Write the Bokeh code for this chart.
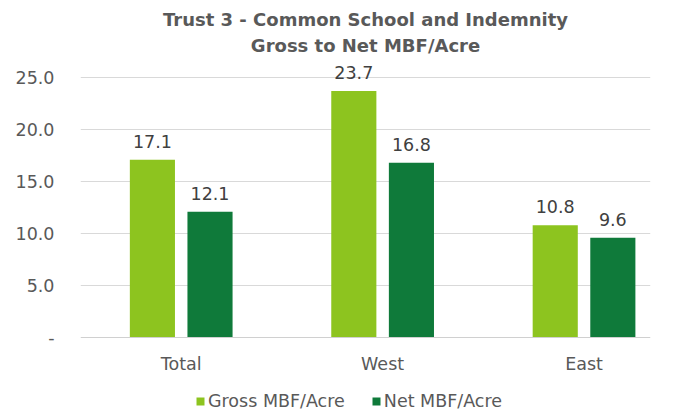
from bokeh.plotting import figure
from bokeh.models import (ColumnDataSource, FixedTicker, Title, Legend, LegendItem,
                          NumeralTickFormatter, LabelSet, Range1d, Span)
from bokeh.core.properties import value
from bokeh.embed import file_html
from bokeh.resources import INLINE

categories = ["Total", "West", "East"]
gross = [17.1, 23.7, 10.8]
net = [12.1, 16.8, 9.6]
y_ticks = [0, 5, 10, 15, 20, 25]

GROSS_COLOR = "#8DC41F"
NET_COLOR = "#0F7A3A"
TEXT_COLOR = "#595959"
FONT = "DejaVu Sans"

centers = [i + 0.5 for i in range(len(categories))]
offset = 0.143
bw = 0.224

src_g = ColumnDataSource(dict(x=[c - offset for c in centers], top=gross,
                              lab=[f"{v:.1f}" for v in gross]))
src_n = ColumnDataSource(dict(x=[c + offset for c in centers], top=net,
                              lab=[f"{v:.1f}" for v in net]))
src_c = ColumnDataSource(dict(x=centers, y=[0] * len(categories), lab=categories))

p = figure(width=680, height=415, frame_width=570, frame_height=359,
           output_backend="svg", toolbar_location=None, x_axis_location=None,
           x_range=Range1d(0, 2.83), y_range=Range1d(-7.5, 27.02),
           min_border_left=80, min_border_right=30, min_border_top=56,
           min_border_bottom=0)
p.outline_line_color = None
p.background_fill_color = "white"
p.border_fill_color = "white"

p.title.text = "Trust 3 - Common School and Indemnity"
p.title.align = "center"
p.title.text_font = FONT
p.title.text_font_size = "18px"
p.title.text_color = TEXT_COLOR
p.title.text_font_style = "bold"
p.title.standoff = 6
t2 = Title(text="Gross to Net MBF/Acre", align="center",
           text_font=FONT, text_font_size="18px", text_color=TEXT_COLOR,
           text_font_style="bold", standoff=1)
p.add_layout(t2, "above")

rg = p.vbar(x="x", top="top", width=bw, source=src_g, fill_color=GROSS_COLOR, line_color=None)
rn = p.vbar(x="x", top="top", width=bw, source=src_n, fill_color=NET_COLOR, line_color=None)

for s in (src_g, src_n):
    p.add_layout(LabelSet(x="x", y="top", text="lab", source=s, text_align="center",
                          text_baseline="bottom", y_offset=12, text_font_size=value("17.5px"),
                          text_color="#404040", text_font=value(FONT)))

# category labels under the baseline
p.add_layout(LabelSet(x="x", y="y", text="lab", source=src_c, text_align="center",
                      text_baseline="middle", y_offset=-26, text_font_size=value("17.5px"),
                      text_color=TEXT_COLOR, text_font=value(FONT)))
p.add_layout(Span(location=0, dimension="width", line_color="#D0D0D0", line_width=1))

p.yaxis.ticker = FixedTicker(ticks=y_ticks)
p.yaxis.formatter = NumeralTickFormatter(format="0.0")
p.yaxis.major_label_overrides = {0: "-"}
p.yaxis.axis_line_color = None
p.yaxis.major_tick_line_color = None
p.yaxis.minor_tick_line_color = None
p.yaxis.major_label_standoff = 20
p.yaxis.major_label_text_font = FONT
p.yaxis.major_label_text_font_size = "17.5px"
p.yaxis.major_label_text_color = TEXT_COLOR

p.xgrid.grid_line_color = None
p.ygrid.grid_line_color = "#D9D9D9"
p.ygrid.ticker = FixedTicker(ticks=y_ticks[1:])

legend = Legend(items=[LegendItem(label="Gross MBF/Acre", renderers=[rg]),
                       LegendItem(label="Net MBF/Acre", renderers=[rn])],
                orientation="horizontal", location=(115, 4), margin=0, padding=0,
                glyph_width=10, glyph_height=10, label_standoff=3, spacing=26,
                label_text_font=FONT, label_text_font_size="17.5px",
                label_text_color=TEXT_COLOR, border_line_color=None,
                background_fill_alpha=0, label_height=17)
p.add_layout(legend, "center")

open("out.html", "w").write(file_html(p, INLINE))
